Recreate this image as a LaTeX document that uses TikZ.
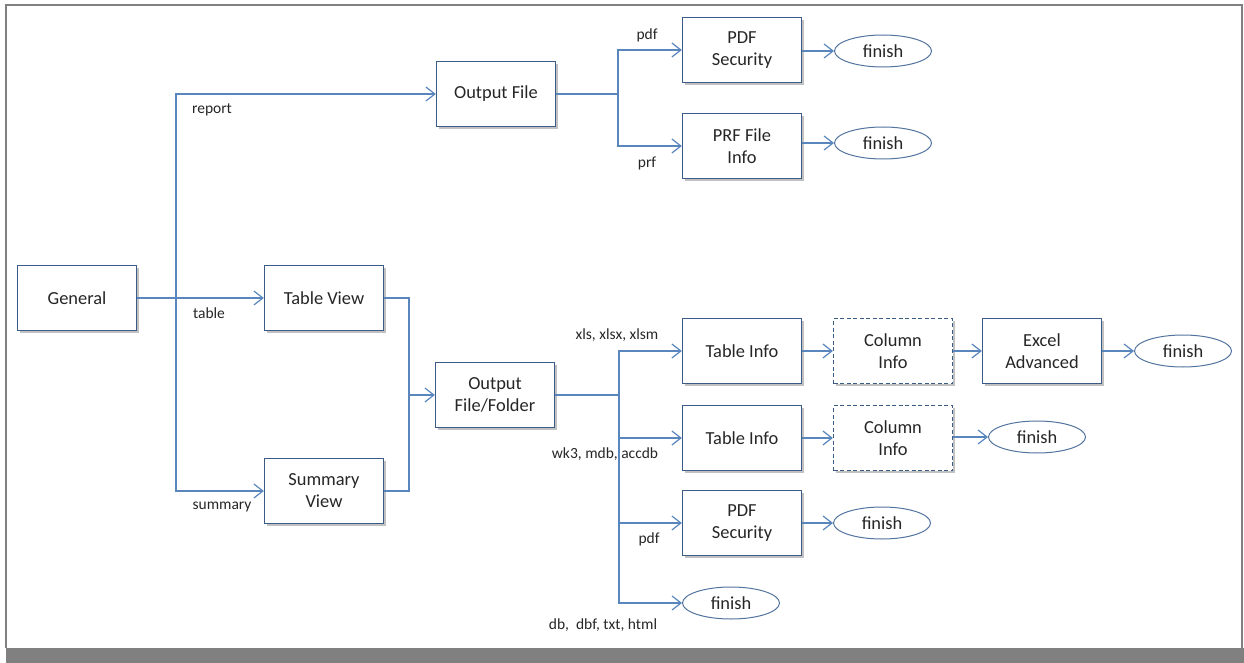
\documentclass[tikz,border=0pt]{standalone}
\usepackage{fontspec}
\setmainfont{Carlito}
\usetikzlibrary{arrows.meta,shapes.geometric,shadows}
\definecolor{boxc}{HTML}{3B5C87}
\definecolor{ellc}{HTML}{5474A0}
\definecolor{linec}{HTML}{5A86BE}
\definecolor{txt}{HTML}{262626}
\definecolor{frm}{HTML}{808080}
\begin{document}
\begin{tikzpicture}[x=1pt,y=-1pt,
  box/.style={draw=boxc, line width=1.3pt, fill=white, minimum width=119pt, minimum height=65pt,
    align=center, inner sep=2pt, text=txt, font=\fontsize{18.4}{22}\selectfont,
    drop shadow={shadow xshift=2.5pt,shadow yshift=-2.5pt,opacity=0.35,fill=black!70}},
  dbox/.style={box, dash pattern=on 4pt off 2.5pt},
  fin/.style={ellipse, draw=ellc, line width=1pt, fill=white, minimum width=97pt, minimum height=32pt,
    inner sep=0pt, text=txt, font=\fontsize{18.4}{22}\selectfont},
  ln/.style={draw=linec, line width=1.2pt},
  arr/.style={ln, -{Straight Barb[length=9pt,width=14pt,line width=1.2pt]}},
  lab/.style={inner sep=0pt, text=txt, font=\fontsize{15.5}{18}\selectfont}]
\useasboundingbox (0,0) rectangle (1244,663);
% frame
\draw[frm, line width=2pt] (6,648) -- (6,5) -- (1242,5) -- (1242,648);
\fill[frm] (6,648) rectangle (1244,663);

% nodes
\node[box] (G) at (77,298) {General};
\node[box] (TV) at (324,298) {Table View};
\node[box] (SV) at (324,491) {Summary\\View};
\node[box] (OF) at (496,94) {Output File};
\node[box] (OFF) at (495,395) {Output\\File/Folder};
\node[box] (PDF1) at (742,50) {PDF\\Security};
\node[box] (PRF) at (742,146) {PRF File\\Info};
\node[fin] (F1) at (883,51) {finish};
\node[fin] (F2) at (883,143) {finish};
\node[box] (TI1) at (742,351) {Table Info};
\node[dbox] (CI1) at (893,351) {Column\\Info};
\node[box] (EA) at (1042,351) {Excel\\Advanced};
\node[fin] (F3) at (1183,351) {finish};
\node[box] (TI2) at (742,438) {Table Info};
\node[dbox] (CI2) at (893,438) {Column\\Info};
\node[fin] (F4) at (1037,437) {finish};
\node[box] (PDF2) at (742,523) {PDF\\Security};
\node[fin] (F5) at (882,523) {finish};
\node[fin] (F6) at (731,603) {finish};

% junctions
\coordinate (j1) at (176,298);
\coordinate (j2) at (409,395);
\coordinate (j3) at (618,94);
\coordinate (j4) at (619,395);

% connectors
\draw[arr] (G.east) -- (TV.west);
\draw[arr] (j1) |- (OF.west);
\draw[arr] (j1) |- (SV.west);
\draw[ln] (TV.east) -| (j2);
\draw[ln] (SV.east) -| (j2);
\draw[arr] (j2) -- (OFF.west);
\draw[ln] (OF.east) -- (j3);
\draw[arr] (j3) |- (PDF1.west);
\draw[arr] (j3) |- (PRF.west);
\draw[arr] (PDF1.east |- F1.west) -- (F1.west);
\draw[arr] (PRF.east |- F2.west) -- (F2.west);
\draw[ln] (OFF.east) -- (j4);
\draw[arr] (j4) |- (TI1.west);
\draw[arr] (j4) |- (TI2.west);
\draw[arr] (j4) |- (PDF2.west);
\draw[arr] (j4) |- (F6.west);
\draw[arr] (TI1.east) -- (CI1.west);
\draw[arr] (CI1.east) -- (EA.west);
\draw[arr] (EA.east) -- (F3.west);
\draw[arr] (TI2.east) -- (CI2.west);
\draw[arr] (CI2.east |- F4.west) -- (F4.west);
\draw[arr] (PDF2.east) -- (F5.west);

% labels
\node[lab] (lrep) at (212,110) {report};
\node[lab] (ltab) at (209,313) {table};
\node[lab] (lsum) at (222,507) {summary};
\node[lab] (lpdf1) at (647,35) {pdf};
\node[lab] (lprf) at (647,163) {prf};
\node[lab] (lxls) at (617,335) {xls, xlsx, xlsm};
\node[lab] (lwk) at (605,454) {wk3, mdb, accdb};
\node[lab] (lpdf2) at (649,539) {pdf};
\node[lab] (ldb) at (603,625) {db,\ \ dbf, txt, html};
\end{tikzpicture}
\end{document}
